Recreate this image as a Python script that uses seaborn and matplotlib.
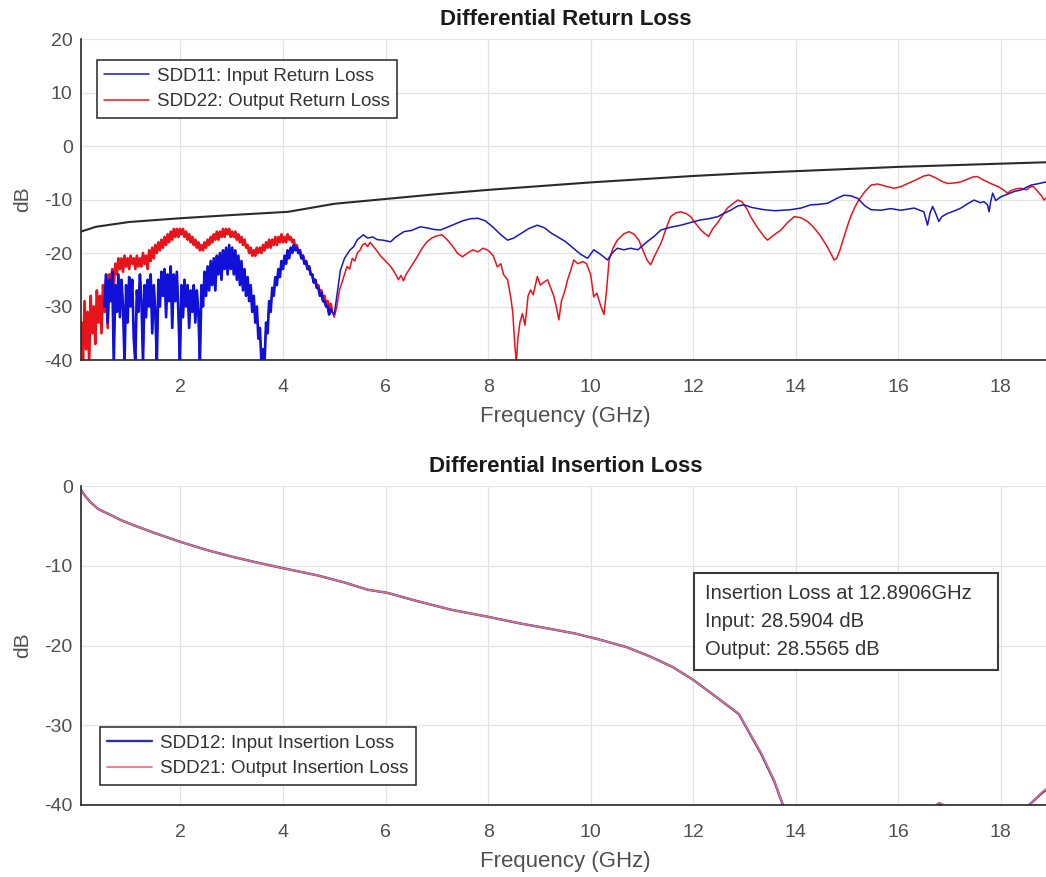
import numpy as np
import pandas as pd
import seaborn as sns
import matplotlib
matplotlib.use("Agg")
import matplotlib.pyplot as plt
from matplotlib.patches import Rectangle

# ---- return loss limit mask (black) ----
mask_freq = [0.06, 0.35, 1.0, 2.0, 3.0, 4.1, 5.0, 6.0, 7.0, 8.0, 9.0, 10.0,
             11.0, 12.0, 13.0, 14.0, 15.0, 16.0, 17.0, 18.0, 19.0]
mask_db = [-16.0, -15.1, -14.2, -13.5, -12.9, -12.3, -10.8, -9.9, -9.0, -8.2,
           -7.5, -6.8, -6.2, -5.6, -5.1, -4.7, -4.3, -3.9, -3.6, -3.3, -3.0]

# ---- SDD22 (red), noisy low band sampled every 0.03 GHz from 0.07 GHz ----
sdd22_lf_start, lf_step = 0.07, 0.03
sdd22_lf_db = [
    -33, -40, -29, -38, -31, -40.5, -28, -35, -30, -37, -27, -33, -28, -35, -26, -31,
    -25, -34, -24, -27, -23, -26, -22, -24, -21, -23, -21, -23.5, -20.5, -22.5,
    -21, -23, -20.5, -22, -21, -23, -20.5, -22.5, -21, -22.5, -20, -22, -20.5, -23,
    -19.5, -21.5, -19, -21, -18.5, -20, -18, -19.5, -17.5, -19, -17, -18.5, -16.5,
    -18, -16, -17.5, -15.5, -17, -15.5, -17, -15.5, -16.5, -15.5, -17, -16, -17.5,
    -16.5, -18, -17, -18.5, -17.5, -19, -18, -19.5, -18.5, -19.5, -18, -19, -17.5,
    -18.5, -17, -18, -16.5, -17.5, -16, -17.5, -16, -17, -15.5, -17, -15.5, -16.5,
    -15.5, -17, -16, -17, -16, -17.5, -16.5, -18, -17, -18.5, -17.5, -19, -18.5,
    -20, -19, -20.5, -19.5, -20.5, -19, -20, -19, -20, -18.5, -19.5, -18, -19,
    -17.5, -19, -17.5, -18.5, -17, -18.5, -17, -18, -16.5, -18, -17, -18, -16.5,
    -17.5, -17, -18, -17.5, -19, -18.5, -20, -19.5, -21, -20.5, -22, -21.5, -23,
    -22.5, -24, -24, -25.5, -25, -26.5, -26, -27.5, -27, -28.5, -28, -29.5, -29,
    -30.5, -29.5, -31]
sdd22_hf_freq = [
    5.00, 5.05, 5.10, 5.15, 5.20, 5.25, 5.30, 5.35, 5.40, 5.45, 5.50, 5.55, 5.60,
    5.65, 5.70, 5.80, 5.90, 6.00, 6.10, 6.20, 6.25, 6.30, 6.35, 6.40, 6.50, 6.60,
    6.70, 6.80, 6.90, 7.00, 7.10, 7.20, 7.30, 7.40, 7.50, 7.60, 7.70, 7.80, 7.90,
    8.00, 8.10, 8.18, 8.25, 8.30, 8.38, 8.44, 8.48, 8.52, 8.55, 8.58, 8.62, 8.67,
    8.72, 8.78, 8.83, 8.88, 8.96, 9.02, 9.08, 9.16, 9.22, 9.28, 9.33, 9.38, 9.43,
    9.50, 9.55, 9.62, 9.67, 9.75, 9.85, 9.92, 10.00, 10.06, 10.12, 10.20, 10.26,
    10.31, 10.36, 10.44, 10.52, 10.65, 10.75, 10.85, 10.94, 11.02, 11.10, 11.17,
    11.25, 11.37, 11.47, 11.56, 11.66, 11.76, 11.86, 11.95, 12.05, 12.15, 12.23,
    12.30, 12.38, 12.48, 12.58, 12.67, 12.77, 12.87, 12.95, 13.05, 13.12, 13.25,
    13.38, 13.45, 13.55, 13.71, 13.85, 13.97, 14.10, 14.23, 14.35, 14.49, 14.60,
    14.68, 14.75, 14.80, 14.86, 14.92, 15.00, 15.07, 15.15, 15.23, 15.35, 15.47,
    15.60, 15.75, 15.92, 16.05, 16.19, 16.35, 16.50, 16.60, 16.72, 16.85, 16.96,
    17.10, 17.22, 17.35, 17.45, 17.54, 17.65, 17.80, 17.95, 18.05, 18.13, 18.20,
    18.30, 18.39, 18.50, 18.58, 18.64, 18.72, 18.80, 18.84, 18.90, 19.00]
sdd22_hf_db = [
    -32, -30, -27, -25.5, -24, -22.5, -23, -21, -21.5, -20, -19.5, -18.5, -18.2,
    -18.8, -18, -19.2, -20.5, -21.5, -22.5, -24, -25, -24.2, -25.2, -24, -22.5, -21,
    -19.3, -18, -17.2, -16.8, -16.6, -17.5, -18.6, -20, -20.7, -20, -19.4, -19.8,
    -19.1, -19.5, -20.5, -22.6, -22, -24, -25, -28.2, -31, -37, -40.5, -36, -33,
    -31.3, -33.5, -28, -26.9, -27.8, -24.4, -26, -25.5, -25, -26.5, -28, -30,
    -32.5, -29, -27, -25, -23, -21.3, -22, -21.6, -22, -24, -28.2, -27.5, -30,
    -31.5, -27, -21.3, -19, -17.6, -16.4, -16, -16.5, -17.6, -19.5, -21.3, -22.2,
    -20.5, -18.2, -15.5, -13.2, -12.5, -12.3, -12.6, -13.2, -14.5, -15.7, -16.4,
    -16.9, -15.5, -14.3, -12.8, -11.6, -10.8, -10.1, -10.4, -11.8, -13.2, -15.2,
    -16.9, -17.6, -16.8, -15.7, -14.2, -13.2, -13.4, -14.1, -15.2, -16.9, -18.6,
    -20, -21.3, -21, -19.5, -17.6, -15.2, -13.2, -11.5, -10.1, -8.5, -7.3, -7.1,
    -7.5, -7.9, -7.6, -7.0, -6.3, -5.6, -5.4, -5.9, -6.6, -7.0, -6.9, -6.7, -6.2,
    -5.8, -5.7, -6.3, -7.0, -7.6, -8.2, -8.8, -8.3, -8.0, -7.9, -8.2, -7.6, -7.6,
    -8.5, -9.4, -10.1, -9.6, -10.5]

# ---- SDD11 (blue), noisy low band sampled every 0.03 GHz from 0.52 GHz ----
sdd11_lf_start = 0.52
sdd11_lf_db = [
    -30, -24, -33, -25, -29, -23.5, -40.5, -26, -31, -24, -32, -25, -30, -40.5,
    -26, -33, -24.5, -30, -25, -36, -40.5, -27, -31, -24, -29, -40.5, -26, -32,
    -25, -30, -24, -35, -26, -31, -40.5, -25, -30, -23.5, -28, -23, -32, -24, -29,
    -22.5, -34, -24, -29, -23.5, -31, -40.5, -26, -32, -25, -30, -26, -34, -27,
    -31, -26, -33, -27, -31, -40.5, -26, -30, -23.5, -28, -22.5, -27, -21.5, -26,
    -21, -27, -20.5, -24, -20, -25, -19.5, -23, -19, -24, -18.5, -23, -19, -24,
    -19.5, -25, -20.5, -26, -21.5, -27, -23, -28, -24.5, -29, -26, -31, -28, -33,
    -30, -36, -34, -40.5, -38, -40.5, -33, -35, -29, -31, -26.5, -28, -24.5, -26,
    -23, -24.5, -21.5, -23, -20.5, -22, -19.5, -21, -19, -20, -18.5, -19.5, -19,
    -20, -19.5, -21, -20.5, -22, -21.5, -23, -22.5, -24, -24, -25.5, -25, -26.5,
    -26.5, -28, -27.5, -29, -29, -30, -30, -31.5, -30.5]
sdd11_hf_freq = [
    4.96, 5.00, 5.05, 5.12, 5.20, 5.30, 5.38, 5.45, 5.57, 5.65, 5.75, 5.84, 5.95,
    6.10, 6.20, 6.36, 6.50, 6.68, 6.80, 6.95, 7.07, 7.20, 7.35, 7.50, 7.65, 7.80,
    7.95, 8.10, 8.25, 8.38, 8.50, 8.65, 8.80, 8.96, 9.10, 9.22, 9.36, 9.50, 9.65,
    9.80, 9.94, 10.06, 10.20, 10.33, 10.42, 10.52, 10.65, 10.78, 10.92, 11.10,
    11.25, 11.37, 11.55, 11.76, 11.95, 12.15, 12.30, 12.48, 12.60, 12.73, 12.87,
    12.99, 13.15, 13.38, 13.60, 13.90, 14.10, 14.29, 14.45, 14.62, 14.80, 14.94,
    15.07, 15.21, 15.35, 15.47, 15.66, 15.85, 16.05, 16.31, 16.45, 16.50, 16.57,
    16.62, 16.67, 16.73, 16.79, 16.85, 16.96, 17.10, 17.22, 17.35, 17.48, 17.60,
    17.67, 17.74, 17.77, 17.80, 17.84, 17.90, 18.00, 18.13, 18.26, 18.40, 18.59,
    18.75, 18.88, 19.00]
sdd11_hf_db = [
    -31, -31.5, -28, -23.2, -21, -19.5, -18.8, -17.5, -16.6, -17.2, -17, -17.5,
    -17.6, -17.9, -17, -16, -15.8, -15.1, -15.3, -15.6, -15.7, -15.2, -14.6, -14,
    -13.6, -13.5, -14, -15.2, -16.6, -17.6, -17.2, -16.3, -15.4, -14.8, -15.3,
    -16.2, -17, -17.8, -19, -20.2, -21, -19.4, -20.3, -21.3, -20, -19.1, -19.4,
    -19.1, -19.4, -17.9, -16.8, -15.7, -15.2, -14.8, -14.3, -13.8, -13.6, -13.2,
    -12.6, -12.0, -11.2, -11.0, -11.5, -11.9, -12.1, -11.9, -11.6, -11.0, -10.9,
    -10.7, -9.8, -9.2, -9.3, -9.8, -11.2, -11.9, -12.0, -11.7, -12.0, -11.6,
    -12.1, -12.3, -14.8, -12.5, -11.3, -12.6, -14.1, -13.2, -12.6, -12.1, -11.6,
    -10.8, -10.1, -10.6, -10.4, -11.0, -12.3, -10.5, -8.8, -10.2, -9.5, -9.0,
    -8.5, -8.2, -7.3, -7.0, -6.7, -6.5]

# ---- insertion loss ----
il_freq = [0.06, 0.15, 0.24, 0.40, 0.63, 0.85, 1.08, 1.50, 2.00, 2.50, 3.03,
           3.50, 4.00, 4.67, 5.20, 5.65, 6.04, 6.60, 7.27, 8.00, 8.60, 9.20,
           9.70, 10.20, 10.70, 11.17, 11.60, 12.00, 12.48, 12.89, 13.32, 13.58,
           13.75, 13.90, 14.50, 15.50, 16.30, 16.70, 16.80, 16.90, 17.10, 17.60,
           18.20, 18.55, 18.80, 19.00]
sdd12_db = [-0.5, -1.3, -2.0, -2.9, -3.6, -4.3, -4.9, -5.9, -7.0, -8.0, -8.9,
            -9.6, -10.3, -11.2, -12.1, -13.0, -13.4, -14.4, -15.5, -16.4, -17.2,
            -17.9, -18.5, -19.3, -20.2, -21.4, -22.7, -24.3, -26.6, -28.59,
            -33.5, -37.0, -40.0, -42.5, -47.0, -46.0, -42.0, -40.2, -39.8, -40.1,
            -41.0, -44.0, -42.0, -40.0, -38.5, -37.5]
sdd21_db = [-0.5, -1.3, -2.0, -2.9, -3.6, -4.3, -4.9, -5.9, -7.0, -8.0, -8.9,
            -9.6, -10.3, -11.2, -12.1, -13.0, -13.4, -14.4, -15.5, -16.4, -17.2,
            -17.9, -18.5, -19.3, -20.2, -21.4, -22.7, -24.3, -26.6, -28.56,
            -33.4, -36.9, -40.0, -42.4, -47.0, -46.0, -42.0, -40.1, -39.7, -40.0,
            -41.0, -44.0, -42.0, -40.0, -38.4, -37.4]

x_ticks = [2, 4, 6, 8, 10, 12, 14, 16, 18]
note_text = "Insertion Loss at 12.8906GHz\nInput: 28.5904 dB\nOutput: 28.5565 dB"

sdd22_freq = np.round(sdd22_lf_start + lf_step * np.arange(len(sdd22_lf_db)), 3)
sdd11_freq = np.round(sdd11_lf_start + lf_step * np.arange(len(sdd11_lf_db)), 3)
sdd22_lf = pd.DataFrame({"f": sdd22_freq, "db": sdd22_lf_db})
sdd11_lf = pd.DataFrame({"f": sdd11_freq, "db": sdd11_lf_db})
sdd22 = pd.DataFrame({"f": np.concatenate([sdd22_freq, sdd22_hf_freq]),
                      "db": sdd22_lf_db + sdd22_hf_db})
sdd11 = pd.DataFrame({"f": np.concatenate([sdd11_freq, sdd11_hf_freq]),
                      "db": sdd11_lf_db + sdd11_hf_db})

sns.set_theme(style="whitegrid")
plt.rcParams['font.family'] = ['Liberation Sans', 'DejaVu Sans']
plt.rcParams['axes.unicode_minus'] = False

fig = plt.figure(figsize=(10.46, 8.77), dpi=100)
ax1 = fig.add_axes([0.0774, 0.5895, 0.926, 0.366])
ax2 = fig.add_axes([0.0774, 0.0821, 0.926, 0.3637])

grey = "#505050"
for ax in (ax1, ax2):
    ax.set_facecolor("white")
    ax.grid(True, color="#e4e4e4", lw=0.9)
    for s in ("top", "right"):
        ax.spines[s].set_visible(False)
    for s in ("left", "bottom"):
        ax.spines[s].set_color("#262626")
        ax.spines[s].set_linewidth(1.2)
    ax.tick_params(direction="in", length=6, width=1.1, colors="#262626",
                   labelcolor=grey, labelsize=14)
    ax.tick_params(axis="x", pad=14)
    ax.tick_params(axis="y", pad=6)
    ax.set_xlim(0.06, 18.95)
    ax.set_xticks(x_ticks)
    ax.set_xlabel("Frequency (GHz)", fontsize=16, color=grey, labelpad=7)
    ax.set_ylabel("dB", fontsize=15, color=grey, labelpad=9)

# return loss
sns.lineplot(x=mask_freq, y=mask_db, ax=ax1, color="#2b2b2b", lw=1.5,
             legend=False)
sns.lineplot(data=sdd22, x="f", y="db", ax=ax1, color="#e8141c", lw=1.1,
             estimator=None, sort=False, label="SDD22: Output Return Loss")
sns.lineplot(data=sdd22_lf, x="f", y="db", ax=ax1, color="#e8141c", lw=1.9,
             estimator=None, sort=False, legend=False)
sns.lineplot(data=sdd11, x="f", y="db", ax=ax1, color="#1717c8", lw=1.1,
             estimator=None, sort=False, label="SDD11: Input Return Loss")
sns.lineplot(data=sdd11_lf, x="f", y="db", ax=ax1, color="#1010d8", lw=1.9,
             estimator=None, sort=False, legend=False)
ax1.set_ylim(-40, 20)
ax1.set_yticks([20, 10, 0, -10, -20, -30, -40])
ax1.set_title("Differential Return Loss", fontsize=16, fontweight="bold",
              color="#1a1a1a", pad=10)
h, l = ax1.get_legend_handles_labels()
leg_kw = dict(fontsize=13.5, frameon=True, fancybox=False, edgecolor="#262626",
              framealpha=1, handlelength=2.4, borderpad=0.4, labelspacing=0.45,
              handletextpad=0.4, borderaxespad=0)
leg1 = ax1.legend(h[::-1], l[::-1], loc="upper left",
                  bbox_to_anchor=(0.0165, 0.935), **leg_kw)
leg1.get_frame().set_linewidth(1.1)
for t in leg1.get_texts():
    t.set_color("#333333")

# insertion loss
sns.lineplot(x=il_freq, y=sdd12_db, ax=ax2, color="#3030a0", lw=1.7,
             label="SDD12: Input Insertion Loss")
sns.lineplot(x=il_freq, y=sdd21_db, ax=ax2, color="#e0707c", lw=1.2,
             label="SDD21: Output Insertion Loss")
ax2.set_ylim(-40, 0)
ax2.set_yticks([0, -10, -20, -30, -40])
ax2.set_title("Differential Insertion Loss", fontsize=16, fontweight="bold",
              color="#1a1a1a", pad=10)
leg2 = ax2.legend(loc="lower left", bbox_to_anchor=(0.0196, 0.063), **leg_kw)
leg2.get_frame().set_linewidth(1.1)
for t in leg2.get_texts():
    t.set_color("#333333")

# data-tip box (fixed size, like the MATLAB annotation)
ax2.add_patch(Rectangle((12.01, -23.07), 5.93, 12.17, fc="white",
                        ec="#3a3a3a", lw=1.5, zorder=5))
ax2.text(12.24, -12.3, note_text, fontsize=14.5, color="#333333", va="top",
         ha="left", linespacing=1.6, zorder=6)

fig.savefig("out.png", dpi=100, facecolor="white")
